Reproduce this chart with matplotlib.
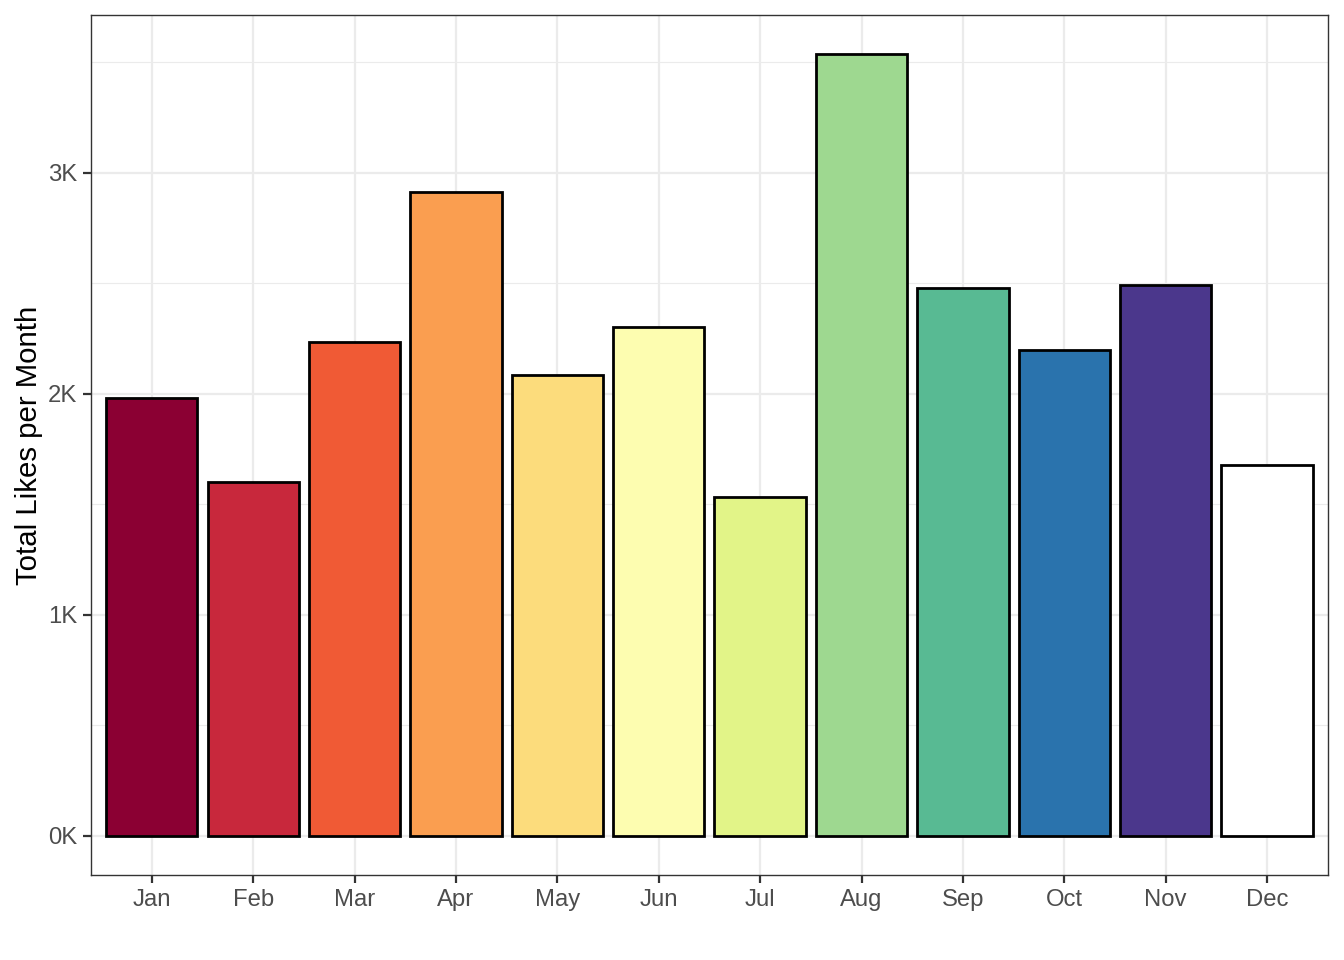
import matplotlib
matplotlib.use("Agg")
import matplotlib.pyplot as plt
from matplotlib.ticker import FixedLocator, FuncFormatter

months = ["Jan", "Feb", "Mar", "Apr", "May", "Jun", "Jul", "Aug", "Sep", "Oct", "Nov", "Dec"]
likes = [1980, 1601, 2237, 2914, 2084, 2305, 1534, 3536, 2481, 2197, 2494, 1678]
colors = ["#8B0033", "#C8283C", "#F05A35", "#FA9E50", "#FCDC7C", "#FDFDB0",
          "#E2F488", "#9ED890", "#58BA93", "#2A73AD", "#4B378C", "#FFFFFF"]

plt.rcParams["font.family"] = ["Liberation Sans", "DejaVu Sans"]

fig = plt.figure(figsize=(13.44, 9.6), dpi=100)
ax = fig.add_axes([0.0677, 0.0885, 0.9203, 0.8955])

x = list(range(1, len(months) + 1))
ax.bar(x, likes, width=0.9, color=colors, edgecolor="black", linewidth=2.0, zorder=3)

top = max(likes)
ax.set_xlim(0.4, 12.6)
ax.set_ylim(-0.05 * top, 1.05 * top)

ax.set_xticks(x)
ax.set_xticklabels(months)
ax.set_yticks([0, 1000, 2000, 3000])
ax.yaxis.set_major_formatter(FuncFormatter(lambda v, p: "{}K".format(int(round(v / 1000)))))
ax.yaxis.set_minor_locator(FixedLocator([500, 1500, 2500, 3500]))

ax.grid(which="major", color="#EBEBEB", linewidth=1.6, zorder=0)
ax.grid(which="minor", axis="y", color="#EBEBEB", linewidth=0.8, zorder=0)
ax.set_axisbelow(True)

for s in ax.spines.values():
    s.set_color("#333333")
    s.set_linewidth(1.0)

ax.tick_params(which="major", length=5.7, width=1.6, color="#333333",
               labelsize=17.2, labelcolor="#4D4D4D", pad=4)
ax.tick_params(which="minor", length=0)

ax.set_ylabel("Total Likes per Month", fontsize=21.2, color="black", labelpad=4)

fig.savefig("out.png", dpi=100)
